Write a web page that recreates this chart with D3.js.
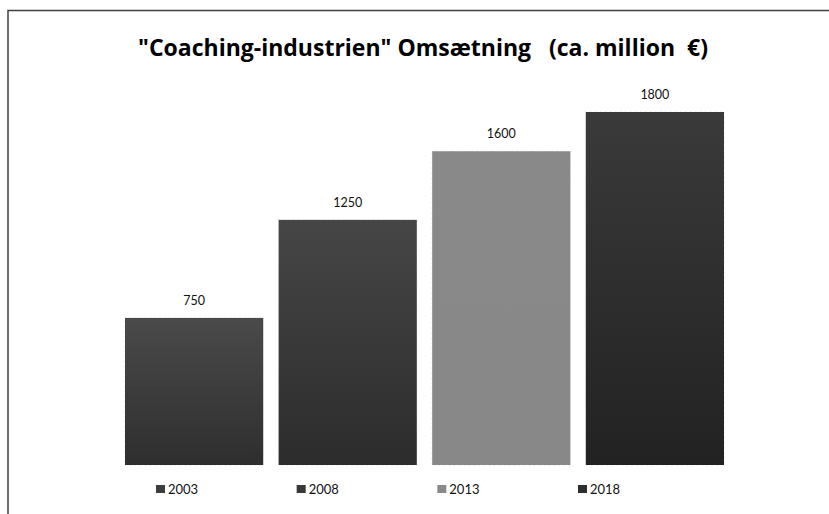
<!DOCTYPE html>
<html><head><meta charset="utf-8">
<script src="https://cdn.jsdelivr.net/npm/d3@7"></script>
<style>body{margin:0;background:#fff}svg{display:block}</style>
</head><body>
<svg id="c" width="829" height="514"></svg>
<script>
const years = ["2003", "2008", "2013", "2018"];
const values = [750, 1250, 1600, 1800];
const topColors = ["#4a4a4a", "#464646", "#898989", "#3a3a3a"];
const bottomColors = ["#2e2e2e", "#2c2c2c", "#888888", "#222222"];
const legendColors = ["#3c3c3c", "#383838", "#898989", "#2e2e2e"];
const title = "\"Coaching-industrien\" Omsætning   (ca. million  €)";

const svg = d3.select("#c");
const font = "Lato, 'Open Sans', sans-serif";

svg.append("path").attr("d", "M8,520 V10.5 H840").attr("fill", "none")
  .attr("stroke", "#404040").attr("stroke-width", 1.5);

svg.append("text").attr("x", 423).attr("y", 56).attr("text-anchor", "middle")
  .attr("font-family", "'Open Sans', sans-serif").attr("font-weight", "bold")
  .attr("font-size", 23).attr("fill", "#000").style("white-space", "pre").text(title);

const x = d3.scaleBand().domain(years).range([125, 724]).paddingInner(0.1).paddingOuter(0);
const y = d3.scaleLinear().domain([0, 1800]).range([465, 112]);

const defs = svg.append("defs");
years.forEach((yr, i) => {
  const g = defs.append("linearGradient").attr("id", "g" + i).attr("x1", 0).attr("y1", 0).attr("x2", 0).attr("y2", 1);
  g.append("stop").attr("offset", "0%").attr("stop-color", topColors[i]);
  g.append("stop").attr("offset", "100%").attr("stop-color", bottomColors[i]);
});

const bars = svg.selectAll("g.bar").data(years).join("g").attr("class", "bar");
bars.append("rect").attr("x", d => x(d)).attr("y", (d, i) => y(values[i]))
  .attr("width", x.bandwidth()).attr("height", (d, i) => y(0) - y(values[i]))
  .attr("fill", (d, i) => `url(#g${i})`);
bars.append("rect").attr("x", d => x(d) - 0.5).attr("y", (d, i) => y(values[i]) - 0.5)
  .attr("width", x.bandwidth() + 1).attr("height", (d, i) => y(0) - y(values[i]) + 1)
  .attr("fill", "none").attr("stroke", "#d0d0d0").attr("stroke-width", 0.6).attr("stroke-dasharray", "1,4");
bars.append("text").attr("x", d => x(d) + x.bandwidth() / 2).attr("y", (d, i) => y(values[i]) - 13)
  .attr("text-anchor", "middle").attr("font-family", font).attr("font-size", 12.5).attr("fill", "#111")
  .text((d, i) => values[i]);

const lx = d3.scalePoint().domain(years).range([156, 578]);
const leg = svg.selectAll("g.leg").data(years).join("g").attr("class", "leg");
leg.append("rect").attr("x", d => lx(d)).attr("y", 485).attr("width", 9).attr("height", 8)
  .attr("fill", (d, i) => legendColors[i]);
leg.append("text").attr("x", d => lx(d) + 12).attr("y", 494).attr("font-family", font)
  .attr("font-size", 13).attr("fill", "#111").text(d => d);
</script>
</body></html>
